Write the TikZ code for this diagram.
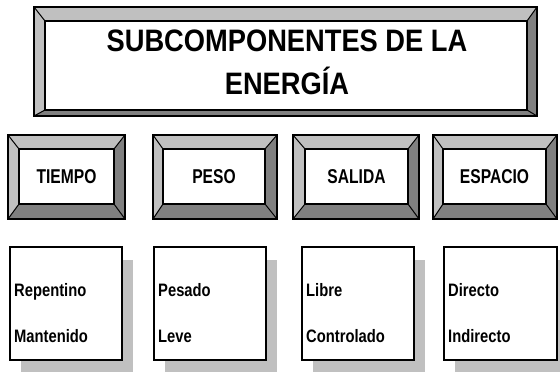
\documentclass[tikz,border=0pt]{standalone}
\usepackage{fontspec}
\setmainfont{Liberation Sans}[FakeStretch=0.88]
\newfontfamily\narrowfont{Liberation Sans}[FakeStretch=0.82]
\newfontfamily\headfont{Liberation Sans}[FakeStretch=0.78]
\usetikzlibrary{calc,shadows}
\definecolor{bevlight}{HTML}{C0C0C0}
\definecolor{bevdark}{HTML}{808080}
\definecolor{shadowgray}{HTML}{C0C0C0}
\tikzset{
  outline/.style={draw=black,line width=2pt,line join=miter},
  diag/.style={draw=black,line width=1pt},
  headlbl/.style={inner sep=0pt,font=\headfont\bfseries\fontsize{20}{22}\selectfont},
  titlelbl/.style={inner sep=0pt,align=center,font=\bfseries\fontsize{31}{43}\selectfont},
  itembox/.style={draw=black,line width=2pt,fill=white,anchor=north west,
    minimum width=112pt,minimum height=113pt,inner sep=0pt,
    drop shadow={shadow xshift=11pt,shadow yshift=-13pt,fill=shadowgray,opacity=1,draw=none}},
  itemlbl/.style={inner sep=0pt,anchor=base west,font=\narrowfont\bfseries\fontsize{18}{20}\selectfont}
}
% #1 name, #2-#5 outer corners, #6-#9 inner corners
\newcommand\bevbox[9]{%
  \fill[bevlight] (#2,#3) -- (#4,#3) -- (#8,#7) -- (#6,#7) -- cycle;
  \fill[bevlight] (#2,#3) -- (#6,#7) -- (#6,#9) -- (#2,#5) -- cycle;
  \fill[bevdark] (#2,#5) -- (#6,#9) -- (#8,#9) -- (#4,#5) -- cycle;
  \fill[bevdark] (#4,#3) -- (#8,#7) -- (#8,#9) -- (#4,#5) -- cycle;
  \draw[diag] (#2,#3) -- (#6,#7) (#4,#3) -- (#8,#7) (#2,#5) -- (#6,#9) (#4,#5) -- (#8,#9);
  \draw[outline] (#2,#3) rectangle (#4,#5);
  \draw[outline,fill=white] (#6,#7) rectangle (#8,#9);
  \coordinate (#1-c) at ($(#6,#7)!0.5!(#8,#9)$);
}
\begin{document}
\begin{tikzpicture}[x=1pt,y=-1pt]
\useasboundingbox (0,0) rectangle (560,372);
% title
\bevbox{tb}{34}{7}{537}{116}{45}{21}{527}{110}
\node[titlelbl] (title) at (287,62.5) {SUBCOMPONENTES DE LA\\ENERGÍA};
% headers
\bevbox{b1}{8}{135}{125}{219}{19}{149}{114}{204}
\bevbox{b2}{153}{135}{277}{219}{163}{149}{265}{204}
\bevbox{b3}{293}{135}{419}{219}{305}{149}{408}{204}
\bevbox{b4}{433}{135}{557}{219}{443}{149}{546}{204}
\node[headlbl] (tiempo) at (b1-c) {TIEMPO};
\node[headlbl] (peso) at (b2-c) {PESO};
\node[headlbl] (salida) at (b3-c) {SALIDA};
\node[headlbl] (espacio) at (b4-c) {ESPACIO};
% item boxes
\node[itembox] (i1) at (9,246) {};
\node[itembox] (i2) at (153,246) {};
\node[itembox] (i3) at (301,246) {};
\node[itembox,minimum width=113pt] (i4) at (443,246) {};
\node[itemlbl] (rep) at (14,296) {Repentino};
\node[itemlbl] (man) at (14,342) {Mantenido};
\node[itemlbl] (pes) at (158,296) {Pesado};
\node[itemlbl] (lev) at (158,342) {Leve};
\node[itemlbl] (lib) at (306,296) {Libre};
\node[itemlbl] (con) at (306,342) {Controlado};
\node[itemlbl] (dir) at (448,296) {Directo};
\node[itemlbl] (ind) at (448,342) {Indirecto};
\end{tikzpicture}
\end{document}
